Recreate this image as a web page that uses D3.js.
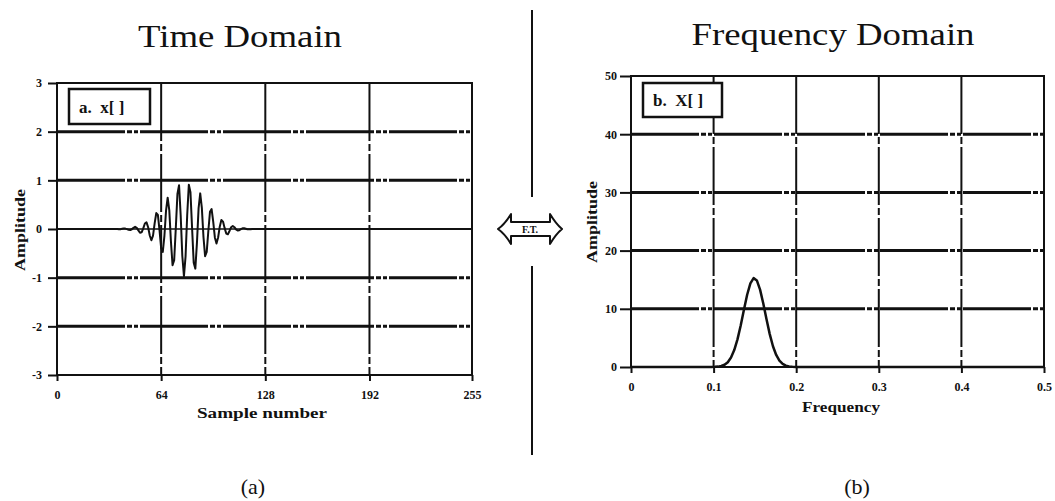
<!DOCTYPE html>
<html>
<head>
<meta charset="utf-8">
<script src="https://cdn.jsdelivr.net/npm/d3@7"></script>
<style>
  html, body { margin: 0; padding: 0; background: #fff; }
  svg { display: block; }
  .tick text { font-family: "Liberation Serif", "DejaVu Serif", serif; font-weight: bold; font-size: 12px; fill: #111; }
</style>
</head>
<body>
<svg id="chart" width="1055" height="501"></svg>
<script>
// Time-domain signal x[n], n = 0..255 (Gaussian-windowed burst)
const timeSignal = [
  0, 0, 0, 0, 0, 0, 0, 0, 0, 0, 0, 0, 0, 0, 0, 0,
  0, 0, 0, 0, 0, 0, 0, 0, 0, 0, 0, 0, 0, 0, 0, 0,
  0, 0, 0, 0, 0, 0, -0.004, -0.003, 0.003, 0.009, 0.008, -0.002, -0.017, -0.021, -0.005, 0.025,
  0.044, 0.025, -0.028, -0.076, -0.067, 0.013, 0.112, 0.137, 0.037, -0.134, -0.231, -0.135, 0.116, 0.328, 0.288, -0.029,
  -0.392, -0.472, -0.141, 0.377, 0.644, 0.382, -0.252, -0.744, -0.643, 0.019, 0.719, 0.90, 0.277, -0.554, -0.97, -0.561,
  0.284, 0.91, 0.757, 0.021, -0.695, -0.814, -0.279, 0.428, 0.732, 0.434, -0.164, -0.558, -0.469, -0.036, 0.353, 0.408,
  0.146, -0.173, -0.299, -0.175, 0.048, 0.184, 0.152, 0.018, -0.094, -0.107, -0.040, 0.036, 0.063, 0.037, -0.007, -0.032,
  -0.026, -0.004, 0.013, 0.015, 0.006, -0.004, -0.007, -0.004, 0, 0, 0, 0, 0, 0, 0, 0,
  0, 0, 0, 0, 0, 0, 0, 0, 0, 0, 0, 0, 0, 0, 0, 0,
  0, 0, 0, 0, 0, 0, 0, 0, 0, 0, 0, 0, 0, 0, 0, 0,
  0, 0, 0, 0, 0, 0, 0, 0, 0, 0, 0, 0, 0, 0, 0, 0,
  0, 0, 0, 0, 0, 0, 0, 0, 0, 0, 0, 0, 0, 0, 0, 0,
  0, 0, 0, 0, 0, 0, 0, 0, 0, 0, 0, 0, 0, 0, 0, 0,
  0, 0, 0, 0, 0, 0, 0, 0, 0, 0, 0, 0, 0, 0, 0, 0,
  0, 0, 0, 0, 0, 0, 0, 0, 0, 0, 0, 0, 0, 0, 0, 0,
  0, 0, 0, 0, 0, 0, 0, 0, 0, 0, 0, 0, 0, 0, 0, 0
];

// Magnitude spectrum |X[k]|, k = 0..128 (frequency = k / 256)
const spectrum = [
  0, 0, 0, 0, 0, 0, 0, 0, 0, 0, 0, 0, 0, 0, 0, 0,
  0, 0, 0, 0, 0, 0, 0, 0, 0, 0, 0.024, 0.067, 0.17, 0.39, 0.83, 1.63,
  2.90, 4.75, 7.13, 9.82, 12.41, 14.38, 15.27, 14.88, 13.30, 10.90, 8.19, 5.65, 3.57, 2.07, 1.10, 0.54,
  0.24, 0.10, 0.04, 0.01, 0, 0, 0, 0, 0, 0, 0, 0, 0, 0, 0, 0,
  0, 0, 0, 0, 0, 0, 0, 0, 0, 0, 0, 0, 0, 0, 0, 0,
  0, 0, 0, 0, 0, 0, 0, 0, 0, 0, 0, 0, 0, 0, 0, 0,
  0, 0, 0, 0, 0, 0, 0, 0, 0, 0, 0, 0, 0, 0, 0, 0,
  0, 0, 0, 0, 0, 0, 0, 0, 0, 0, 0, 0, 0, 0, 0, 0,
  0
];

// Tick values
const sampleTicks = [0, 64, 128, 192, 255];
const timeAmpTicks = [-3, -2, -1, 0, 1, 2, 3];
const freqTicks = [0, 0.1, 0.2, 0.3, 0.4, 0.5];
const freqAmpTicks = [0, 10, 20, 30, 40, 50];

// Text
const titles = ["Time Domain", "Frequency Domain"];
const panelTags = ["(a)", "(b)"];
const legendLabels = ["a.  x[ ]", "b.  X[ ]"];
const xAxisLabels = ["Sample number", "Frequency"];
const yAxisLabel = "Amplitude";

const svg = d3.select("#chart");
const serif = '"Liberation Serif", "DejaVu Serif", serif';

const HDASH = "68,2,5,2,4,2";
const VDASH = "58,3,7,3";

function drawPanel(cfg) {
  const { x, y, xTicks, yTicks, xFmt, yFmt, data, xOf, curveWidth,
          zeroLine, legend, legendBox, xLabel, xLabelPos, yLabelPos,
          yTickSize, yTickPad, xTickPad } = cfg;
  const [x0, x1] = x.range();
  const [yb, yt] = y.range();
  const g = svg.append("g");

  // horizontal gridlines (thick dash-dot style)
  g.selectAll("line.hgrid")
    .data(yTicks.filter(v => v !== y.domain()[0] && v !== y.domain()[1] && v !== zeroLine))
    .join("line")
    .attr("x1", x0).attr("x2", x1)
    .attr("y1", d => y(d)).attr("y2", d => y(d))
    .attr("stroke", "#111").attr("stroke-width", 3)
    .attr("stroke-dasharray", HDASH);

  // zero line (thin, solid)
  if (zeroLine !== null) {
    g.append("line")
      .attr("x1", x0).attr("x2", x1)
      .attr("y1", y(zeroLine)).attr("y2", y(zeroLine))
      .attr("stroke", "#111").attr("stroke-width", 1.5);
  }

  // vertical gridlines
  g.selectAll("line.vgrid")
    .data(xTicks.slice(1, -1))
    .join("line")
    .attr("x1", d => x(d)).attr("x2", d => x(d))
    .attr("y1", yt).attr("y2", yb)
    .attr("stroke", "#111").attr("stroke-width", 2)
    .attr("stroke-dasharray", VDASH);

  // frame
  g.append("rect")
    .attr("x", x0).attr("y", yt)
    .attr("width", x1 - x0).attr("height", yb - yt)
    .attr("fill", "none").attr("stroke", "#111").attr("stroke-width", 2);

  // data curve
  const line = d3.line()
    .x((d, i) => x(xOf(i)))
    .y(d => y(d));
  g.append("path")
    .datum(data)
    .attr("d", line)
    .attr("fill", "none")
    .attr("stroke", "#111")
    .attr("stroke-width", curveWidth)
    .attr("stroke-linejoin", "round");

  // axes
  const ax = g.append("g")
    .attr("transform", `translate(0,${yb})`)
    .call(d3.axisBottom(x).tickValues(xTicks).tickFormat(xFmt).tickSize(6).tickPadding(xTickPad));
  const ay = g.append("g")
    .attr("transform", `translate(${x0},0)`)
    .call(d3.axisLeft(y).tickValues(yTicks).tickFormat(yFmt).tickSize(yTickSize).tickPadding(yTickPad));
  [ax, ay].forEach(a => {
    a.select(".domain").remove();
    a.selectAll(".tick line").attr("stroke", "#111").attr("stroke-width", 2);
  });

  // legend box
  const lb = legendBox;
  g.append("rect")
    .attr("x", lb.x).attr("y", lb.y).attr("width", lb.w).attr("height", lb.h)
    .attr("fill", "#fff").attr("stroke", "#111").attr("stroke-width", 2.5);
  g.append("text")
    .attr("x", lb.x + 10).attr("y", lb.y + lb.h / 2 + 6)
    .attr("font-family", serif).attr("font-weight", "bold").attr("font-size", 17)
    .attr("fill", "#111")
    .attr("xml:space", "preserve")
    .text(legend);

  // axis labels
  g.append("text")
    .attr("x", xLabelPos[0]).attr("y", xLabelPos[1])
    .attr("text-anchor", "middle")
    .attr("font-family", serif).attr("font-weight", "bold").attr("font-size", 15)
    .attr("fill", "#111")
    .attr("textLength", xLabelPos[2]).attr("lengthAdjust", "spacingAndGlyphs")
    .text(xLabel);
  g.append("text")
    .attr("transform", `translate(${yLabelPos[0]},${yLabelPos[1]}) rotate(-90)`)
    .attr("text-anchor", "middle")
    .attr("font-family", serif).attr("font-weight", "bold").attr("font-size", 15)
    .attr("fill", "#111")
    .attr("textLength", 82).attr("lengthAdjust", "spacingAndGlyphs")
    .text(yAxisLabel);
}

// Left: time domain
const xTime = d3.scaleLinear().domain([0, 255]).range([57, 472]);
const yTime = d3.scaleLinear().domain([-3, 3]).range([375, 83]);
drawPanel({
  x: xTime, y: yTime,
  xTicks: sampleTicks, yTicks: timeAmpTicks,
  xFmt: d => String(d), yFmt: d => String(d),
  data: timeSignal, xOf: i => i, curveWidth: 2,
  zeroLine: 0,
  legend: legendLabels[0],
  legendBox: { x: 69, y: 89, w: 81, h: 35 },
  xLabel: xAxisLabels[0], xLabelPos: [262, 418, 130],
  yLabelPos: [25, 230],
  yTickSize: 9, yTickPad: 6, xTickPad: 9
});

// Right: frequency domain
const xFreq = d3.scaleLinear().domain([0, 0.5]).range([631, 1044]);
const yFreq = d3.scaleLinear().domain([0, 50]).range([367, 76]);
drawPanel({
  x: xFreq, y: yFreq,
  xTicks: freqTicks, yTicks: freqAmpTicks,
  xFmt: d => String(d), yFmt: d => String(d),
  data: spectrum, xOf: k => k / 256, curveWidth: 2.5,
  zeroLine: null,
  legend: legendLabels[1],
  legendBox: { x: 643, y: 83, w: 79, h: 34 },
  xLabel: xAxisLabels[1], xLabelPos: [841, 412, 78],
  yLabelPos: [597, 222],
  yTickSize: 11, yTickPad: 3, xTickPad: 9
});

// Titles and panel tags
svg.append("text").attr("x", 240).attr("y", 47).attr("text-anchor", "middle")
  .attr("font-family", serif).attr("font-size", 32).attr("fill", "#111")
  .attr("textLength", 204).attr("lengthAdjust", "spacingAndGlyphs").text(titles[0]);
svg.append("text").attr("x", 833).attr("y", 45).attr("text-anchor", "middle")
  .attr("font-family", serif).attr("font-size", 32).attr("fill", "#111")
  .attr("textLength", 283).attr("lengthAdjust", "spacingAndGlyphs").text(titles[1]);
svg.append("text").attr("x", 253).attr("y", 494).attr("text-anchor", "middle")
  .attr("font-family", serif).attr("font-size", 22).attr("fill", "#111").text(panelTags[0]);
svg.append("text").attr("x", 857).attr("y", 494).attr("text-anchor", "middle")
  .attr("font-family", serif).attr("font-size", 22).attr("fill", "#111").text(panelTags[1]);

// Divider between the two domains
svg.append("line").attr("x1", 532).attr("x2", 532).attr("y1", 10).attr("y2", 197)
  .attr("stroke", "#111").attr("stroke-width", 2);
svg.append("line").attr("x1", 532).attr("x2", 532).attr("y1", 266).attr("y2", 455)
  .attr("stroke", "#111").attr("stroke-width", 2);

// Double-headed transform arrow
const arrow = d3.path();
arrow.moveTo(511, 214);
arrow.quadraticCurveTo(505, 224, 498, 229);
arrow.quadraticCurveTo(505, 234, 511, 244);
arrow.lineTo(511, 236);
arrow.lineTo(550, 236);
arrow.lineTo(550, 244);
arrow.quadraticCurveTo(556, 234, 562, 229);
arrow.quadraticCurveTo(556, 224, 550, 214);
arrow.lineTo(550, 222);
arrow.lineTo(511, 222);
arrow.closePath();
svg.append("path").attr("d", arrow.toString())
  .attr("fill", "#fff").attr("stroke", "#111").attr("stroke-width", 2)
  .attr("stroke-linejoin", "round");
svg.append("text").attr("x", 530).attr("y", 233).attr("text-anchor", "middle")
  .attr("font-family", serif).attr("font-weight", "bold").attr("font-size", 10)
  .attr("fill", "#111").text("F.T.");
</script>
</body>
</html>
